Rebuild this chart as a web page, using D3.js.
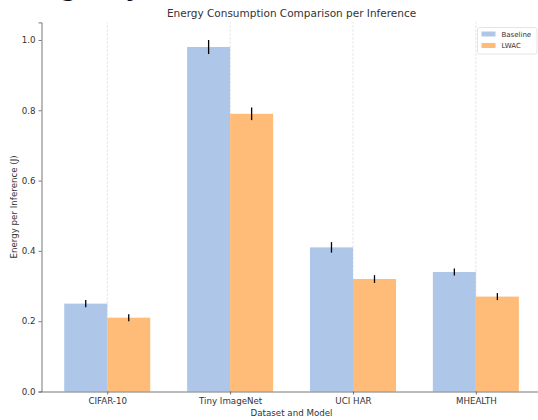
<!DOCTYPE html>
<html>
<head>
<meta charset="utf-8">
<script src="https://cdn.jsdelivr.net/npm/d3@7"></script>
<style>
  body { margin: 0; background: #fff; }
  svg { display: block; font-family: "DejaVu Sans", sans-serif; }
</style>
</head>
<body>
<svg id="chart" width="538" height="420"></svg>
<script>
// data
var categories = ["CIFAR-10", "Tiny ImageNet", "UCI HAR", "MHEALTH"];
var seriesNames = ["Baseline", "LWAC"];
var baselineValues = [0.25, 0.98, 0.41, 0.34];
var baselineErrors = [0.01, 0.02, 0.015, 0.01];
var lwacValues = [0.21, 0.79, 0.32, 0.27];
var lwacErrors = [0.01, 0.018, 0.011, 0.01];
var yTicks = [0.0, 0.2, 0.4, 0.6, 0.8, 1.0];

var colors = ["#aec7e8", "#ffbb78"];
var barWidth = 0.35;

var svg = d3.select("#chart");

// the page heading above the figure is mostly cut off, only descenders show
svg.append("text")
    .attr("x", 42)
    .attr("y", -4)
    .attr("font-size", 24)
    .attr("font-weight", "bold")
    .attr("fill", "#111")
    .text("Agency");

// axes box (right side runs past the picture edge)
var x = d3.scaleLinear().domain([-0.535, 3.535]).range([41.5, 541.6]);
var y = d3.scaleLinear().domain([0, 1.05]).range([391.5, 22.4]);

// vertical grid at category ticks
svg.append("g").selectAll("line")
    .data(categories)
  .enter().append("line")
    .attr("x1", (d, i) => x(i))
    .attr("x2", (d, i) => x(i))
    .attr("y1", y(0))
    .attr("y2", y(1.05))
    .attr("stroke", "#d0d0d0")
    .attr("stroke-width", 0.7)
    .attr("stroke-dasharray", "2,2");

// bars
var series = [
  { name: seriesNames[0], values: baselineValues, errors: baselineErrors, offset: -barWidth, color: colors[0] },
  { name: seriesNames[1], values: lwacValues, errors: lwacErrors, offset: 0, color: colors[1] }
];

series.forEach(function(s) {
  var g = svg.append("g");
  g.selectAll("rect")
      .data(s.values)
    .enter().append("rect")
      .attr("x", (d, i) => x(i + s.offset))
      .attr("width", x(barWidth) - x(0))
      .attr("y", d => y(d))
      .attr("height", d => y(0) - y(d))
      .attr("fill", s.color);

  g.selectAll("line")
      .data(s.values)
    .enter().append("line")
      .attr("x1", (d, i) => x(i + s.offset + barWidth / 2))
      .attr("x2", (d, i) => x(i + s.offset + barWidth / 2))
      .attr("y1", (d, i) => y(d - s.errors[i]))
      .attr("y2", (d, i) => y(d + s.errors[i]))
      .attr("stroke", "#000")
      .attr("stroke-width", 1.3);
});

// y axis
var yAxis = svg.append("g")
    .attr("transform", "translate(" + x(-0.535) + ",0)")
    .call(d3.axisLeft(y).tickValues(yTicks).tickFormat(d3.format(".1f")).tickSize(3).tickPadding(3));
yAxis.select(".domain").attr("stroke", "#555").attr("stroke-width", 0.8);
yAxis.selectAll(".tick line").attr("stroke", "#555").attr("stroke-width", 0.8);
yAxis.selectAll("text").attr("font-size", 8.7).attr("fill", "#333")
    .attr("font-family", "DejaVu Sans");

// x axis
var xAxis = svg.append("g")
    .attr("transform", "translate(0," + y(0) + ")")
    .call(d3.axisBottom(x).tickValues(d3.range(categories.length))
      .tickFormat(i => categories[i]).tickSize(3).tickPadding(3).tickSizeOuter(0));
xAxis.select(".domain").attr("stroke", "#555").attr("stroke-width", 0.8);
xAxis.selectAll(".tick line").attr("stroke", "#555").attr("stroke-width", 0.8);
xAxis.selectAll("text").attr("font-size", 8.7).attr("fill", "#333")
    .attr("font-family", "DejaVu Sans");

// title and axis labels
svg.append("text")
    .attr("x", (x.range()[0] + x.range()[1]) / 2)
    .attr("y", 16.5)
    .attr("text-anchor", "middle")
    .attr("font-size", 10.5)
    .attr("fill", "#333")
    .text("Energy Consumption Comparison per Inference");

svg.append("text")
    .attr("x", (x.range()[0] + x.range()[1]) / 2)
    .attr("y", 415.5)
    .attr("text-anchor", "middle")
    .attr("font-size", 8.7)
    .attr("fill", "#333")
    .text("Dataset and Model");

svg.append("text")
    .attr("transform", "translate(17," + (y(0) + y(1.05)) / 2 + ") rotate(-90)")
    .attr("text-anchor", "middle")
    .attr("font-size", 8.7)
    .attr("fill", "#333")
    .text("Energy per Inference (J)");

// legend, upper right
var legend = svg.append("g").attr("transform", "translate(477.5,27.5)");
legend.append("rect")
    .attr("width", 59.5)
    .attr("height", 26.5)
    .attr("rx", 2)
    .attr("fill", "#fff")
    .attr("fill-opacity", 0.8)
    .attr("stroke", "#ddd")
    .attr("stroke-width", 0.8);

seriesNames.forEach(function(name, i) {
  var row = legend.append("g").attr("transform", "translate(4," + (6.5 + i * 11.5) + ")");
  row.append("rect")
      .attr("x", 0)
      .attr("y", -2.5)
      .attr("width", 14)
      .attr("height", 5)
      .attr("fill", colors[i]);
  row.append("text")
      .attr("x", 20)
      .attr("y", 2.5)
      .attr("font-size", 7)
      .attr("fill", "#333")
      .text(name);
});
</script>
</body>
</html>
